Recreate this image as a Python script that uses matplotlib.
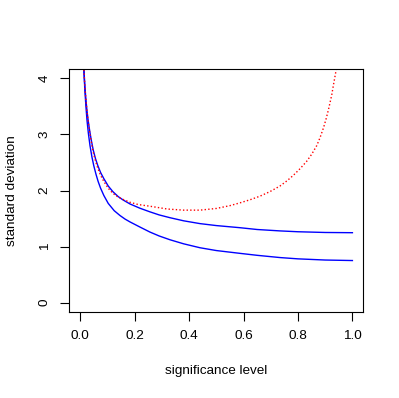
import matplotlib
matplotlib.use('Agg')
import matplotlib.pyplot as plt

plt.rcParams['font.family'] = ['Liberation Sans', 'DejaVu Sans']

# values
x_upper = [0.01, 0.0136, 0.017, 0.021, 0.025, 0.0295, 0.035, 0.041, 0.048, 0.056,
           0.065, 0.075, 0.087, 0.103, 0.12, 0.14, 0.158, 0.183, 0.219, 0.256,
           0.29, 0.33, 0.38, 0.44, 0.50, 0.587, 0.65, 0.734, 0.80, 0.90, 1.0]
sd_upper = [4.60, 4.16, 3.87, 3.62, 3.42, 3.24, 3.06, 2.89, 2.72, 2.57,
            2.44, 2.32, 2.21, 2.08, 1.98, 1.89, 1.83, 1.76, 1.685, 1.62,
            1.565, 1.515, 1.46, 1.41, 1.375, 1.337, 1.305, 1.28, 1.265, 1.252, 1.248]

x_lower = [0.01, 0.0134, 0.017, 0.021, 0.025, 0.03, 0.036, 0.043, 0.05, 0.058,
           0.066, 0.075, 0.087, 0.103, 0.125, 0.146, 0.165, 0.183, 0.219, 0.256,
           0.29, 0.33, 0.38, 0.44, 0.50, 0.587, 0.65, 0.734, 0.80, 0.90, 1.0]
sd_lower = [4.55, 4.16, 3.80, 3.50, 3.25, 3.02, 2.80, 2.60, 2.44, 2.29,
            2.16, 2.04, 1.91, 1.77, 1.64, 1.555, 1.49, 1.44, 1.35, 1.26,
            1.19, 1.122, 1.05, 0.98, 0.93, 0.88, 0.845, 0.805, 0.782, 0.761, 0.752]

x_red = [0.01, 0.0136, 0.017, 0.021, 0.025, 0.0295, 0.035, 0.041, 0.048, 0.056,
         0.065, 0.075, 0.087, 0.103, 0.12, 0.14, 0.158, 0.183, 0.213, 0.256,
         0.32, 0.38, 0.44, 0.50, 0.55, 0.587, 0.624, 0.661, 0.697, 0.734,
         0.759, 0.783, 0.808, 0.832, 0.851, 0.869, 0.881, 0.894, 0.903, 0.912,
         0.924, 0.930, 0.940, 0.95]
sd_red = [4.60, 4.16, 3.87, 3.62, 3.41, 3.22, 3.03, 2.86, 2.68, 2.53,
          2.39, 2.27, 2.16, 2.04, 1.95, 1.88, 1.84, 1.79, 1.75, 1.72,
          1.67, 1.65, 1.65, 1.68, 1.73, 1.78, 1.835, 1.90, 1.98, 2.08,
          2.17, 2.27, 2.39, 2.52, 2.65, 2.80, 2.94, 3.12, 3.27, 3.44,
          3.70, 3.87, 4.14, 4.50]

x_ticks = [0.0, 0.2, 0.4, 0.6, 0.8, 1.0]
y_ticks = [0, 1, 2, 3, 4]

fig = plt.figure(figsize=(3.99, 3.98), dpi=100)
ax = fig.add_axes([0.1737, 0.2168, 0.7368, 0.6091])

ax.plot(x_upper, sd_upper, color='blue', lw=1.0)
ax.plot(x_lower, sd_lower, color='blue', lw=1.0)
ax.plot(x_red, sd_red, color='red', lw=1.0, dashes=(1, 1.6))

ax.set_xlim(-0.04, 1.04)
ax.set_ylim(-0.16, 4.16)
ax.set_xticks(x_ticks)
ax.set_xticklabels(['%.1f' % v for v in x_ticks])
ax.set_yticks(y_ticks)
ax.set_yticklabels([str(v) for v in y_ticks], rotation=90, va='center')

ax.tick_params(length=6.5, width=0.8, labelsize=9.7, pad=7)
for s in ax.spines.values():
    s.set_linewidth(0.8)

ax.set_xlabel('significance level', fontsize=9.7, va='center')
ax.xaxis.set_label_coords(0.5, -0.243)
ax.set_ylabel('standard deviation', fontsize=9.7, va='center')
ax.yaxis.set_label_coords(-0.195, 0.5)

plt.savefig('out.png', dpi=100)
